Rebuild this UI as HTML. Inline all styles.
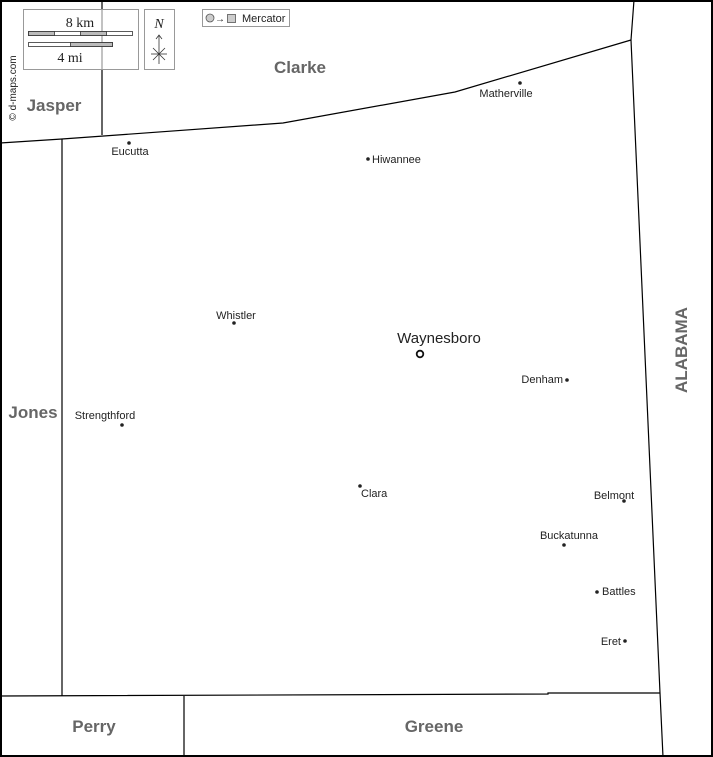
<!DOCTYPE html>
<html><head><meta charset="utf-8"><style>
html,body{margin:0;padding:0;background:#fff}
svg{display:block}
.c{font-family:"Liberation Sans",sans-serif;font-weight:bold;font-size:17px;fill:#666}
.t{font-family:"Liberation Sans",sans-serif;font-size:11px;fill:#222}
.s{font-family:"Liberation Serif",serif;font-size:14px;fill:#222}
</style></head><body>
<svg width="713" height="757" viewBox="0 0 713 757" xmlns="http://www.w3.org/2000/svg">
<rect x="0" y="0" width="713" height="757" fill="#fff"/>
<g fill="none" stroke="#000" stroke-width="1.2">
<polyline points="0,143 62,139 283,123 455,92 631,40"/>
<polyline points="634,0 631,40 660,693 663,757"/>
<line x1="102" y1="0" x2="102" y2="135"/>
<line x1="62" y1="139" x2="62" y2="696"/>
<polyline points="0,696 548,694 548,693 660,693"/>
<line x1="184" y1="696" x2="184" y2="757"/>
</g>
<rect x="1" y="1" width="711" height="755" fill="none" stroke="#000" stroke-width="2"/>
<rect x="23.5" y="9.5" width="115" height="60" fill="#fff" fill-opacity="0.6" stroke="#999"/>
<text class="s" x="80" y="27" text-anchor="middle">8 km</text>
<rect x="28.5" y="31.5" width="104" height="4" fill="#fff" stroke="#333" stroke-width="0.8"/>
<rect x="28.5" y="31.5" width="26" height="4" fill="#bbb" stroke="#333" stroke-width="0.8"/>
<rect x="80.5" y="31.5" width="26" height="4" fill="#bbb" stroke="#333" stroke-width="0.8"/>
<rect x="28.5" y="42.5" width="84" height="4" fill="#fff" stroke="#333" stroke-width="0.8"/>
<rect x="70.5" y="42.5" width="42" height="4" fill="#bbb" stroke="#333" stroke-width="0.8"/>
<text class="s" x="70" y="62" text-anchor="middle">4 mi</text>
<rect x="144.5" y="9.5" width="30" height="60" fill="#fff" stroke="#999"/>
<text class="s" x="159" y="28" text-anchor="middle" font-style="italic">N</text>
<g stroke="#333" stroke-width="0.8"><line x1="159" y1="35" x2="159" y2="64"/><line x1="151" y1="54" x2="167" y2="54"/><line x1="153" y1="48" x2="165" y2="60"/><line x1="165" y1="48" x2="153" y2="60"/><polyline points="156,39 159,35 162,39" fill="none"/></g>
<rect x="202.5" y="9.5" width="87" height="17" fill="#fff" stroke="#999"/>
<circle cx="210" cy="18" r="4" fill="#ccc" stroke="#555" stroke-width="0.8"/>
<text class="t" x="215" y="22" style="font-size:10px">→</text>
<rect x="227.5" y="14.5" width="8" height="8" fill="#ccc" stroke="#555" stroke-width="0.8"/>
<text class="t" x="242" y="22">Mercator</text>
<text class="t" x="16" y="88" transform="rotate(-90 16 88)" text-anchor="middle" style="font-size:10px">© d-maps.com</text>
<text class="c" x="300" y="73" text-anchor="middle">Clarke</text>
<text class="c" x="54" y="111" text-anchor="middle">Jasper</text>
<text class="c" x="33" y="418" text-anchor="middle">Jones</text>
<text class="c" x="94" y="732" text-anchor="middle">Perry</text>
<text class="c" x="434" y="732" text-anchor="middle">Greene</text>
<text class="c" x="687" y="350" text-anchor="middle" transform="rotate(-90 687 350)">ALABAMA</text>
<g fill="#222">
<circle cx="520" cy="83" r="1.8"/><circle cx="129" cy="143" r="1.8"/><circle cx="368" cy="159" r="1.8"/>
<circle cx="234" cy="323" r="1.8"/><circle cx="567" cy="380" r="1.8"/><circle cx="122" cy="425" r="1.8"/>
<circle cx="360" cy="486" r="1.8"/><circle cx="624" cy="501" r="1.8"/><circle cx="564" cy="545" r="1.8"/>
<circle cx="597" cy="592" r="1.8"/><circle cx="625" cy="641" r="1.8"/>
</g>
<circle cx="420" cy="354" r="3.3" fill="none" stroke="#111" stroke-width="1.8"/>
<text class="t" x="439" y="343" text-anchor="middle" style="font-size:15px">Waynesboro</text>
<text class="t" x="506" y="97" text-anchor="middle">Matherville</text>
<text class="t" x="130" y="155" text-anchor="middle">Eucutta</text>
<text class="t" x="372" y="163">Hiwannee</text>
<text class="t" x="236" y="319" text-anchor="middle">Whistler</text>
<text class="t" x="563" y="383" text-anchor="end">Denham</text>
<text class="t" x="105" y="419" text-anchor="middle">Strengthford</text>
<text class="t" x="361" y="497">Clara</text>
<text class="t" x="614" y="499" text-anchor="middle">Belmont</text>
<text class="t" x="569" y="539" text-anchor="middle">Buckatunna</text>
<text class="t" x="602" y="595">Battles</text>
<text class="t" x="621" y="645" text-anchor="end">Eret</text>
</svg>
</body></html>
